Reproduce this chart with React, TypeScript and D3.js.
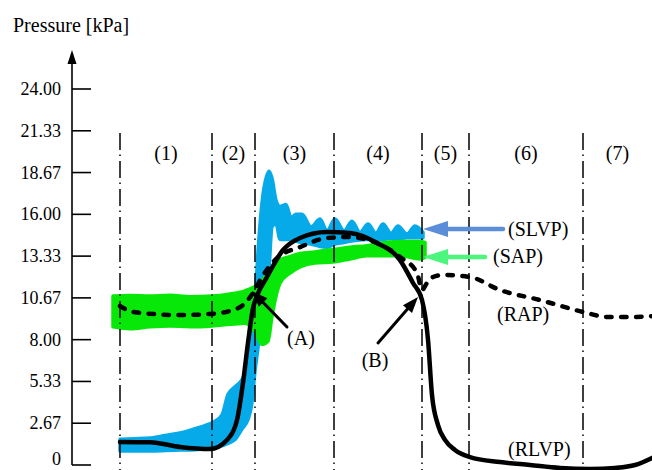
import React from "react";
import * as d3 from "d3";

// time axis is in arbitrary units (ms-ish), pressure in kPa
const phaseBounds = [48, 140, 183, 262, 350, 397, 511];
const phaseEnd = 580;
const phaseLabels = ["(1)", "(2)", "(3)", "(4)", "(5)", "(6)", "(7)"];

const yTickValues = [0, 2.667, 5.333, 8, 10.667, 13.333, 16, 18.667, 21.333, 24];
const yTickLabels = ["0", "2.67", "5.33", "8.00", "10.67", "13.33", "16.00", "18.67", "21.33", "24.00"];

// measured left-ventricle pressure band: [t, low, high]
const slvp: [number, number, number][] = [
  [48, 0.9, 1.65], [63, 0.9, 1.68], [78, 0.9, 1.72], [93, 0.92, 1.88],
  [108, 0.95, 2.05], [123, 0.98, 2.32], [133, 1.02, 2.52], [143, 1.12, 2.8],
  [150, 1.22, 3.2], [156, 1.38, 4.5], [163, 1.62, 5.0], [170, 2.3, 5.45],
  [176, 2.9, 6.5], [180, 4.0, 8.4], [183, 6.0, 10.4], [186, 7.5, 13.6],
  [189, 9.5, 16.1], [192, 11.0, 17.7], [195, 12.0, 18.5], [197, 12.6, 18.75],
  [200, 15.2, 18.3], [204, 15.4, 16.9], [208, 14.4, 16.5], [214, 14.4, 16.62],
  [219, 14.4, 15.8], [224, 14.3, 16.0], [230, 14.2, 16.0], [239, 14.1, 15.2],
  [248, 13.95, 15.7], [255, 13.9, 14.95], [263, 14.1, 15.7], [272, 14.2, 14.95],
  [280, 14.3, 15.56], [288, 14.36, 14.85], [296, 14.4, 15.38], [304, 14.4, 14.8],
  [311, 14.4, 15.38], [319, 14.45, 14.8], [326, 14.45, 15.25], [335, 14.5, 14.74],
  [343, 14.5, 15.25], [351, 14.5, 14.85],
];

// measured aortic pressure band: [t, low, high]
const sap: [number, number, number][] = [
  [41, 8.82, 10.78], [58, 8.7, 10.82], [78, 8.82, 10.78], [98, 8.88, 10.84],
  [118, 8.82, 10.74], [140, 8.88, 10.78], [158, 8.98, 10.92], [173, 9.05, 11.12],
  [183, 8.5, 11.4], [190, 7.7, 11.8], [196, 7.9, 12.2], [200, 9.5, 12.6],
  [208, 11.6, 13.1], [218, 12.25, 13.3], [228, 12.65, 13.5], [243, 12.9, 13.6],
  [261, 12.95, 13.75], [278, 13.15, 13.9], [295, 13.35, 14.0], [313, 13.35, 14.2],
  [328, 13.35, 14.26], [348, 13.15, 14.26], [353, 13.25, 14.2],
];

// reference left-ventricle pressure: [t, kPa]
const rlvp: [number, number][] = [
  [48, 1.47], [78, 1.45], [108, 1.15], [138, 1.02], [155, 1.6], [165, 2.87],
  [171, 5.24], [176, 7.8], [181, 10.0], [185, 10.8], [195, 12.0], [211, 13.72],
  [228, 14.49], [255, 14.87], [278, 14.81], [305, 14.17], [328, 13.08],
  [341, 11.62], [350, 10.53], [356, 8.0], [360, 4.47], [366, 2.55], [373, 1.6],
  [383, 0.96], [398, 0.51], [428, 0.19], [458, 0], [488, -0.19], [518, -0.26],
  [543, -0.19], [563, 0], [580, 0.45],
];

// reference aortic pressure: [t, kPa]
const rap: [number, number][] = [
  [48, 10.15], [61, 9.77], [108, 9.57], [138, 9.64], [161, 9.89], [171, 10.21],
  [181, 10.98], [190, 12.0], [205, 13.21], [228, 13.91], [255, 14.49], [275, 14.55],
  [305, 14.17], [328, 13.28], [345, 12.26], [350, 11.17], [355, 11.62], [361, 12.0],
  [371, 12.13], [398, 12.0], [428, 11.17], [468, 10.53], [511, 9.77], [535, 9.45],
  [561, 9.45], [580, 9.5],
];

const font = '"Liberation Serif", "Times New Roman", Times, serif';

const x = d3.scaleLinear().domain([0, 580]).range([72, 652]);
const y = d3.scaleLinear().domain([0, 24]).range([465, 89]);

function arrowHead(tx: number, ty: number, fx: number, fy: number, len: number, half: number) {
  const a = Math.atan2(ty - fy, tx - fx);
  const bx = tx - len * Math.cos(a);
  const by = ty - len * Math.sin(a);
  const px = -Math.sin(a) * half;
  const py = Math.cos(a) * half;
  return `M${tx},${ty}L${bx + px},${by + py}L${bx - px},${by - py}Z`;
}

const Arrow = ({ from, to, color, width, len, half }: any) => {
  const fx = x(from[0]), fy = y(from[1]);
  const tx = x(to[0]), ty = y(to[1]);
  const a = Math.atan2(ty - fy, tx - fx);
  const ex = tx - (len - 2) * Math.cos(a);
  const ey = ty - (len - 2) * Math.sin(a);
  return (
    <g>
      <line x1={fx} y1={fy} x2={ex} y2={ey} stroke={color} strokeWidth={width} strokeLinecap="round" />
      <path d={arrowHead(tx, ty, fx, fy, len, half)} fill={color} />
    </g>
  );
};

export default function App() {
  const band = d3
    .area<[number, number, number]>()
    .x((d) => x(d[0]))
    .y0((d) => y(d[1]))
    .y1((d) => y(d[2]))
    .curve(d3.curveMonotoneX);
  const line = d3
    .line<[number, number]>()
    .x((d) => x(d[0]))
    .y((d) => y(d[1]))
    .curve(d3.curveMonotoneX);

  const edges = [...phaseBounds, phaseEnd];
  const txt = { fontFamily: font };

  return (
    <svg width={652} height={470} style={{ position: "absolute", left: 0, top: 0, fontFamily: font }}>
      <rect width={652} height={470} fill="#fff" />
      <text x={13} y={32} fontSize={20} style={txt}>Pressure [kPa]</text>

      {/* y axis */}
      <line x1={72} y1={465} x2={72} y2={62} stroke="#000" strokeWidth={1.6} />
      <path d="M72,50L67.5,64L76.5,64Z" fill="#000" />
      {yTickValues.map((v, i) => (
        <g key={i}>
          <line x1={72} x2={91} y1={y(v)} y2={y(v)} stroke="#000" strokeWidth={1.6} />
          <text x={61} y={Math.min(y(v) + 6, 465)} fontSize={18} textAnchor="end" style={txt}>{yTickLabels[i]}</text>
        </g>
      ))}

      {/* measured bands */}
      <path d={band(slvp) || ""} fill="#06aae8" stroke="#06aae8" strokeWidth={3.5} strokeLinejoin="round" />
      <path d={band(sap) || ""} fill="#08e808" stroke="#08e808" strokeWidth={3.5} strokeLinejoin="round" />

      {/* phase separators */}
      {phaseBounds.map((t, i) => (
        <line key={i} x1={x(t)} x2={x(t)} y1={133} y2={470} stroke="#000" strokeWidth={1.5} strokeDasharray="17,4.5,1.5,5" />
      ))}
      {phaseLabels.map((lbl, i) => (
        <text key={lbl} x={x((edges[i] + edges[i + 1]) / 2)} y={160} fontSize={20} textAnchor="middle" style={txt}>{lbl}</text>
      ))}

      {/* reference curves */}
      <path d={line(rlvp) || ""} fill="none" stroke="#000" strokeWidth={4.5} strokeLinecap="round" />
      <path d={line(rap) || ""} fill="none" stroke="#000" strokeWidth={4.5} strokeLinecap="round" strokeDasharray="5.5,9.5" />

      {/* annotations */}
      <Arrow from={[431, 15.06]} to={[351, 15.06]} color="#5b8dd9" width={4.5} len={25} half={8} />
      <Arrow from={[413, 13.28]} to={[351, 13.28]} color="#4cf57c" width={4.5} len={25} half={8} />
      <Arrow from={[215, 8.81]} to={[180, 11.1]} color="#000" width={3} len={16} half={6} />
      <Arrow from={[306, 7.79]} to={[346, 10.72]} color="#000" width={3} len={16} half={6} />

      <text x={x(436)} y={236} fontSize={20} style={txt}>(SLVP)</text>
      <text x={x(421)} y={263} fontSize={20} style={txt}>(SAP)</text>
      <text x={x(425)} y={321} fontSize={20} style={txt}>(RAP)</text>
      <text x={x(436)} y={456} fontSize={20} style={txt}>(RLVP)</text>
      <text x={x(229)} y={345} fontSize={20} textAnchor="middle" style={txt}>(A)</text>
      <text x={x(303)} y={367} fontSize={20} textAnchor="middle" style={txt}>(B)</text>
    </svg>
  );
}
